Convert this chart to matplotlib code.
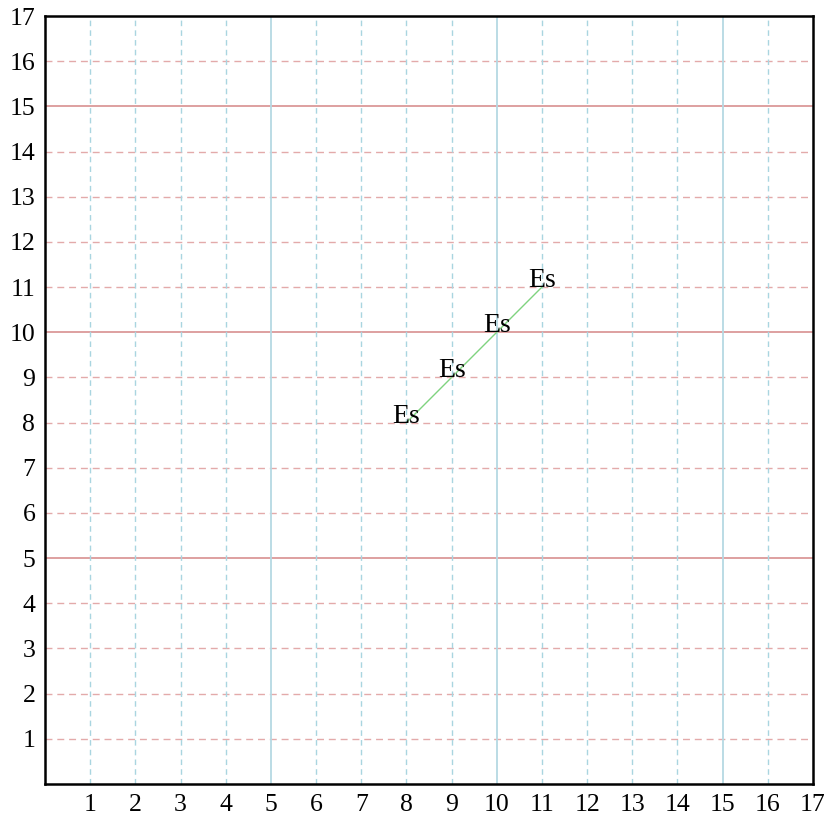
import numpy as np
import matplotlib.pyplot as plt

plt.rcParams['font.family'] = ['Liberation Serif', 'DejaVu Serif']

# 数据
ticks = list(range(1, 18))
major_lines = [5, 10, 15]
minor_lines = [t for t in range(1, 17) if t not in major_lines]
pts_x = [8, 9, 10, 11]
pts_y = [8, 9, 10, 11]
labels = ['Es', 'Es', 'Es', 'Es']

fig = plt.figure(figsize=(8.29, 8.18), dpi=100)
ax = fig.add_axes([45/829, 34/818, 768/829, 768/818])
ax.set_xlim(0, 17)
ax.set_ylim(0, 17)

# 网格线
for v in minor_lines:
    ax.axhline(v, color='#e3aaaa', lw=1, ls=(0, (5, 3.5)), zorder=1)
for v in major_lines:
    ax.axhline(v, color='#d48686', lw=1.1, zorder=1)
for v in minor_lines:
    ax.axvline(v, color='#a9d5e0', lw=1, ls=(0, (4, 3)), zorder=1)
for v in major_lines:
    ax.axvline(v, color='#b5d9e3', lw=1.3, zorder=1)

ax.plot(pts_x, pts_y, color='#7fd37f', lw=1, zorder=2)
for x, y, s in zip(pts_x, pts_y, labels):
    ax.text(x, y, s, ha='center', va='baseline', fontsize=20, zorder=3)

ax.set_xticks(ticks)
ax.set_yticks(ticks)
ax.tick_params(length=0, labelsize=18.5, pad=7)
for sp in ax.spines.values():
    sp.set_linewidth(1.8)

fig.savefig('out.png', dpi=100)
